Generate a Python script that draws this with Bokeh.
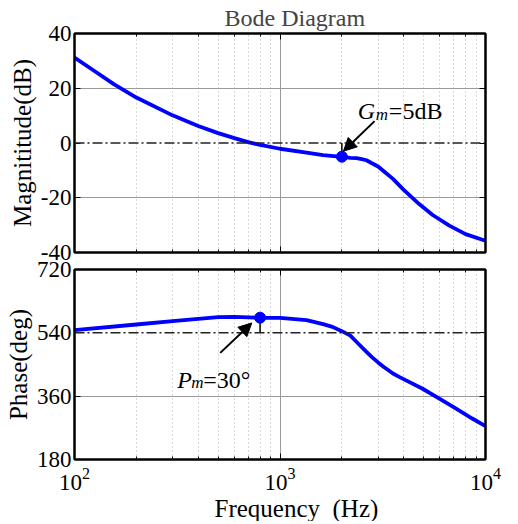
from bokeh.plotting import figure
from bokeh.layouts import column
from bokeh.models import (LogAxis, LinearAxis, FixedTicker, Span, Arrow, Title,
                          NormalHead, ColumnDataSource, Range1d)
from bokeh.core.properties import value
from bokeh.embed import file_html
from bokeh.resources import INLINE

# ---------------- data ----------------
freq_mag = [100, 125, 156, 200, 300, 400, 500, 600, 700, 800, 1000, 1346, 1621, 2000,
            2200, 2360, 2500, 2636, 2800, 3000, 3200, 3546, 4000, 4757, 5532, 6670, 8000, 10000]
mag_db = [31.2, 26.3, 21.4, 16.6, 10.1, 6.2, 3.6, 1.8, 0.3, -0.7, -2.1, -3.5, -4.4, -5.1,
          -5.4, -5.5, -5.9, -6.3, -7.4, -8.6, -10.3, -13.1, -17.1, -22.3, -26.3, -30.2, -33.3, -35.7]

freq_ph = [100, 200, 300, 400, 500, 600, 800, 1000, 1346, 1621, 1800, 2000, 2200, 2360,
           2636, 2800, 3000, 3200, 3546, 3800, 4083, 4918, 5935, 7160, 8620, 10000]
phase_deg = [547.6, 563.7, 573, 579.6, 584.5, 585.5, 582.7, 582.7, 576, 564.6, 557, 544.7,
             532, 514, 486, 471, 456, 443, 424.5, 415, 405.5, 381.8, 353.4, 325, 296.5, 274.7]

gm_freq, gm_db = [2000], [-5]
pm_freq, pm_deg = [800], [583]

mag_ticks = [-40, -20, 0, 20, 40]
phase_ticks = [180, 360, 540, 720]

title_text = "Bode Diagram"
mag_label = "Magnititude(dB)"
phase_label = "Phase(deg)"
x_label = "Frequency\u00a0\u00a0(Hz)"

FONT = "Liberation Serif"
BLUE = "#0000ff"


def style(p, yticks, grid_ticks, show_x_labels, y_label):
    p.outline_line_color = "black"
    p.outline_line_width = 2
    p.background_fill_color = "white"
    p.xgrid.grid_line_color = "#9a9a9a"
    p.xgrid.grid_line_width = 1
    p.xgrid.minor_grid_line_color = "#b0b0b0"
    p.xgrid.minor_grid_line_dash = "1 3"
    p.ygrid.ticker = FixedTicker(ticks=grid_ticks)
    p.ygrid.grid_line_color = "#9a9a9a"
    ya = p.left[0]
    xa = p.below[0]
    ya.ticker = FixedTicker(ticks=yticks)
    ya.major_label_overrides = {t: str(t) for t in yticks}
    ya.axis_label = y_label
    for ax in [ya, xa]:
        ax.axis_line_color = "black"
        ax.axis_line_width = 2
        ax.major_tick_in = 6
        ax.major_tick_out = 0
        ax.minor_tick_in = 3
        ax.minor_tick_out = 0
        ax.major_tick_line_color = "black"
        ax.minor_tick_line_color = "black"
        ax.major_label_text_font = FONT
        ax.major_label_text_font_size = "23px"
        ax.major_label_text_color = "black"
        ax.axis_label_text_font = FONT
        ax.axis_label_text_font_size = "25px"
        ax.axis_label_text_font_style = "normal"
        ax.axis_label_text_color = "black"
    ya.major_label_standoff = 3
    ya.axis_label_standoff = 2
    if not show_x_labels:
        xa.major_label_text_font_size = "1px"
        xa.major_label_text_alpha = 0
        xa.major_label_standoff = 0
    else:
        xa.major_label_text_font_size = "23px"
        xa.major_label_standoff = 8
    ra = LinearAxis(ticker=FixedTicker(ticks=yticks), major_label_text_font_size="1px",
                    major_label_text_alpha=0,
                    major_tick_in=6, major_tick_out=0, axis_line_color="black",
                    axis_line_width=2, major_label_standoff=0)
    p.add_layout(ra, "right")
    ta = LogAxis(major_label_text_font_size="1px", major_label_text_alpha=0,
                 major_tick_in=6, major_tick_out=0,
                 minor_tick_in=3, minor_tick_out=0, axis_line_color="black",
                 axis_line_width=2, major_label_standoff=0)
    p.add_layout(ta, "above")


# ---------------- magnitude ----------------
p1 = figure(frame_width=411, frame_height=219, x_axis_type="log", x_range=Range1d(100, 10000),
            y_range=Range1d(-40, 40), output_backend="svg", toolbar_location=None,
            min_border_left=74, min_border_right=17, min_border_top=28, min_border_bottom=14)
p1.title.text = title_text
p1.title.align = "left"
p1.title.offset = 150
p1.title.text_font = FONT
p1.title.text_font_size = "24px"
p1.title.text_font_style = "normal"
p1.title.standoff = 5
style(p1, mag_ticks, [-20, 20], False, mag_label)

p1.add_layout(Span(location=0, dimension="width", line_color="#222222", line_width=1.5,
                   line_dash="10 3 2 3"))
src1 = ColumnDataSource(dict(f=freq_mag, m=mag_db))
p1.line("f", "m", source=src1, line_color=BLUE, line_width=3.8)
p1.segment(x0=gm_freq, y0=[0], x1=gm_freq, y1=gm_db, line_color="black", line_width=1.5)
p1.scatter(gm_freq, gm_db, size=11, color=BLUE)
p1.add_layout(Arrow(end=NormalHead(size=13, fill_color="black", line_color="black"),
                    x_start=2886, y_start=8.0, x_end=2035, y_end=-3.0,
                    line_color="black", line_width=2))
p1.text(x=[2393], y=[11.7], text=["G"], text_font=value(FONT), text_font_size="24px",
        text_font_style="italic", text_baseline="alphabetic", text_color="black")
p1.text(x=[2393], y=[11.7], text=["m"], x_offset=18, y_offset=4, text_font=value(FONT),
        text_font_size="17px", text_font_style="italic", text_baseline="alphabetic",
        text_color="black")
p1.text(x=[2393], y=[11.7], text=["=5dB"], x_offset=31, text_font=value(FONT),
        text_font_size="24px", text_baseline="alphabetic", text_color="black")

# ---------------- phase ----------------
p2 = figure(frame_width=411, frame_height=190, x_axis_type="log", x_range=p1.x_range,
            y_range=Range1d(180, 720), output_backend="svg", toolbar_location=None,
            min_border_left=74, min_border_right=17, min_border_top=14, min_border_bottom=0)
p2.border_fill_alpha = 0
p2.margin = (-11, 0, 0, 0)
style(p2, phase_ticks, [360], True, phase_label)
p2.add_layout(Title(text=x_label, align="left", offset=140, text_font=FONT,
                    text_font_size="25px", text_font_style="normal", text_color="black",
                    standoff=0), "below")

p2.add_layout(Span(location=540, dimension="width", line_color="#222222", line_width=1.5,
                   line_dash="10 3 2 3"))
src2 = ColumnDataSource(dict(f=freq_ph, ph=phase_deg))
p2.line("f", "ph", source=src2, line_color=BLUE, line_width=3.8)
p2.segment(x0=pm_freq, y0=[540], x1=pm_freq, y1=pm_deg, line_color="black", line_width=1.5)
p2.scatter(pm_freq, pm_deg, size=11, color=BLUE)
p2.add_layout(Arrow(end=NormalHead(size=13, fill_color="black", line_color="black"),
                    x_start=512, y_start=483, x_end=729, y_end=568,
                    line_color="black", line_width=2))
p2.text(x=[316], y=[407], text=["P"], text_font=value(FONT), text_font_size="24px",
        text_font_style="italic", text_baseline="alphabetic", text_color="black")
p2.text(x=[316], y=[407], text=["m"], x_offset=14, y_offset=3, text_font=value(FONT),
        text_font_size="17px", text_font_style="italic", text_baseline="alphabetic",
        text_color="black")
p2.text(x=[316], y=[407], text=["=30°"], x_offset=26, text_font=value(FONT),
        text_font_size="24px", text_baseline="alphabetic", text_color="black")

layout = column(p1, p2, spacing=0)
open("out.html", "w").write(file_html(layout, INLINE))
